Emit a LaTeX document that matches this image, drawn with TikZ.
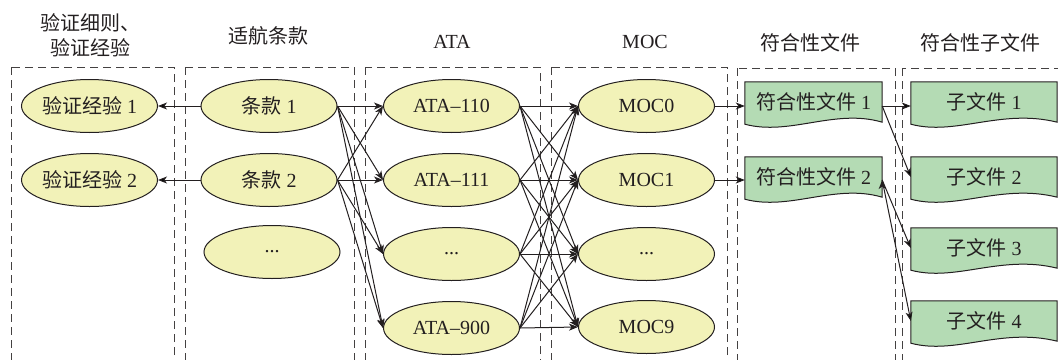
\documentclass[tikz,border=0pt]{standalone}
\usepackage{fontspec}
\setmainfont{Liberation Serif}
\newfontfamily\cjk{Noto Sans CJK SC}
\usepackage{tikz}
\usetikzlibrary{arrows.meta}
\usetikzlibrary{positioning}
\usetikzlibrary{shapes.geometric}
\usetikzlibrary{backgrounds}
\definecolor{nodeyellow}{RGB}{242,242,184}
\definecolor{docgreen}{RGB}{180,219,180}
\definecolor{inkgray}{RGB}{35,31,32}

\begin{document}
\begin{tikzpicture}[x=1pt,y=-1pt,-,>={Stealth[length=9pt,width=7pt,inset=2.5pt]},node distance=74pt,
			main node/.style={ellipse,fill=nodeyellow,draw=inkgray,line width=1pt,
				minimum width=136pt,minimum height=53pt,inner sep=0pt,
				font=\fontsize{20}{24}\selectfont,text=inkgray},
			doc node/.style={rectangle,minimum width=137pt,minimum height=40pt,
				inner sep=0pt,font=\fontsize{20}{24}\selectfont,text=inkgray},
			title node/.style={align=center,font=\fontsize{20}{25}\selectfont,text=inkgray},
			group box/.style={draw=inkgray!85,dash pattern=on 8pt off 5pt,line width=1pt},
			doc shape/.style={fill=docgreen,draw=inkgray,line width=1pt},
			link/.style={->,draw=inkgray,line width=1pt}]
			
			\clip (0,0) rectangle (1058,359);
			
			\draw[group box] (11,67) rectangle (174,370);
			\draw[group box] (185,67) rectangle (354,370);
			\draw[group box] (365,67) rectangle (540,370);
			\draw[group box] (551,67) rectangle (727,370);
			\draw[group box] (737,68) rectangle (895,370);
			\draw[group box] (902,68) rectangle (1070,370);
			
			\node[title node] (T1) at (90,35) {{\cjk 验证细则、}\\{\cjk 验证经验}};
			\node[title node] (T2) at (268,36) {\cjk 适航条款};
			\node[title node] (T3) at (452,42) {ATA};
			\node[title node] (T4) at (645,42) {MOC};
			\node[title node] (T5) at (810,43) {\cjk 符合性文件};
			\node[title node] (T6) at (980,43) {\cjk 符合性子文件};
			
			\node[main node] (t1) at (269,106) {{\cjk 条款} 1};
			\node[main node] (t2) [below of=t1] {{\cjk 条款} 2};
			\node[main node] (t3) [below of=t2, xshift=3pt, yshift=2pt] {...};
			\node[main node] (v1) [left of=t1, node distance=179.5pt] {{\cjk 验证经验} 1};
			\node[main node] (v2) [below of=v1] {{\cjk 验证经验} 2};
			\node[main node] (a1) [right of=t1, node distance=182.5pt] {ATA–110};
			\node[main node] (a2) [below of=a1] {ATA–111};
			\node[main node] (a3) [below of=a2] {...};
			\node[main node] (a4) [below of=a3] {ATA–900};
			\node[main node] (m1) [right of=a1, node distance=195pt] {MOC0};
			\node[main node] (m2) [below of=m1] {MOC1};
			\node[main node] (m3) [below of=m2] {...};
			\node[main node] (m4) [below of=m3, yshift=1pt] {MOC9};
			\node[doc node] (f1) [right of=m1, node distance=167pt, yshift=4pt] {{\cjk 符合性文件} 1};
			\node[doc node] (f2) [below of=f1, node distance=75pt] {{\cjk 符合性文件} 2};
			\node[doc node, minimum width=146pt] (s1) [right of=f1, node distance=170.5pt] {{\cjk 子文件} 1};
			\node[doc node, minimum width=146pt] (s2) [below of=s1, node distance=75pt] {{\cjk 子文件} 2};
			\node[doc node, minimum width=146pt] (s3) [below of=s2, node distance=71pt] {{\cjk 子文件} 3};
			\node[doc node, minimum width=146pt] (s4) [below of=s3, node distance=73pt] {{\cjk 子文件} 4};
			
			\begin{scope}[on background layer]
				\foreach \n in {f1,f2,s1,s2,s3,s4}
				\draw[doc shape] (\n.north west) -- (\n.north east) -- (\n.south east)
				.. controls ([xshift=90pt,yshift=14pt]\n.south west) and ([xshift=45pt,yshift=-14pt]\n.south west)
				.. ([yshift=-2pt]\n.south west) -- cycle;
			\end{scope}
			
			\path[link]
			(t1.west) edge (v1.east)
			(t2.west) edge (v2.east)
			(m1.east) edge (m1.east -| f1.west)
			(m2.east) edge (m2.east -| f2.west)
			(f1.east |- m1) edge (s1.west |- m1)
			(f1.east |- m1) edge (s2.west)
			(f2.east |- m2) edge (s3.west)
			(f2.east |- m2) edge (s4.west);
			\foreach \i in {1,2}
			\foreach \j in {1,...,4}
			\draw[link] (t\i.east) -- (a\j.west);
			\foreach \i in {1,...,4}
			\foreach \j in {1,...,4}
			\draw[link] (a\i.east) -- (m\j.west);
		\end{tikzpicture}
\end{document}
